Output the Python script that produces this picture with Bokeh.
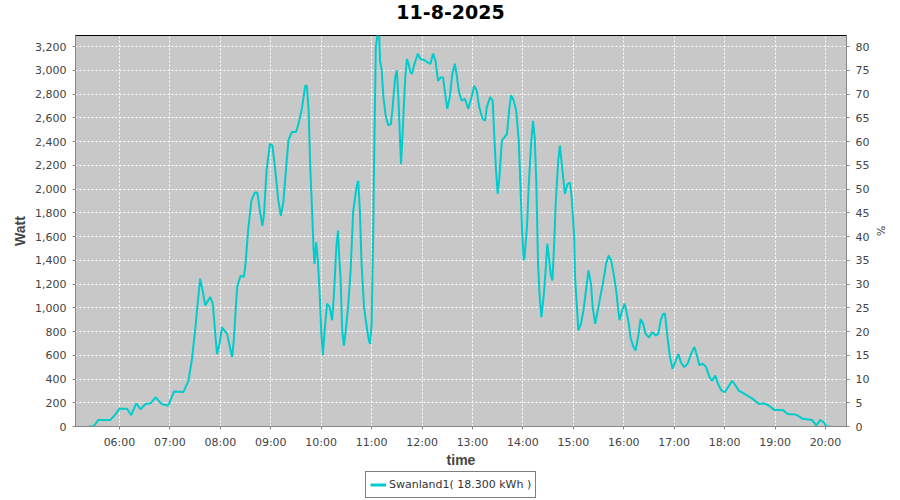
import pandas as pd
from bokeh.plotting import figure
from bokeh.layouts import column
from bokeh.models import (ColumnDataSource, Range1d, LinearAxis, FixedTicker,
                          NumeralTickFormatter, Legend, LegendItem, Label)
from bokeh.embed import file_html
from bokeh.resources import INLINE

DATE = "2025-08-11"
title_text = "11-8-2025"
legend_label = "Swanland1( 18.300 kWh )"
y_label = "Watt"
y2_label = "%"
x_label = "time"

times = [
    "05:23", "05:29", "05:35", "05:49", "05:55", "06:00", "06:09", "06:14", "06:20", "06:25",
    "06:31", "06:37", "06:43", "06:50", "06:58", "07:05", "07:16", "07:22", "07:26", "07:30",
    "07:33", "07:36", "07:39", "07:42", "07:48", "07:51", "07:53", "07:56", "07:59", "08:02",
    "08:08", "08:11", "08:14", "08:16", "08:20", "08:24", "08:28", "08:30", "08:33", "08:37",
    "08:41", "08:44", "08:47", "08:50", "08:52", "08:55", "08:59", "09:02", "09:05", "09:09",
    "09:12", "09:15", "09:18", "09:21", "09:25", "09:30", "09:33", "09:37", "09:41", "09:43",
    "09:45", "09:47", "09:49", "09:51", "09:52", "09:54", "09:56", "09:58", "10:00", "10:02",
    "10:04", "10:07", "10:10", "10:13", "10:15", "10:18", "10:20", "10:21", "10:23", "10:25",
    "10:27", "10:29", "10:32", "10:35", "10:38", "10:42", "10:44", "10:46", "10:48", "10:51",
    "10:53", "10:56", "10:58", "11:00", "11:02", "11:03", "11:05", "11:07", "11:09", "11:10",
    "11:12", "11:14", "11:17", "11:20", "11:23", "11:25", "11:28", "11:30", "11:32", "11:34",
    "11:35", "11:37", "11:40", "11:42", "11:44", "11:46", "11:48", "11:51", "11:55", "11:58",
    "12:03", "12:07", "12:10", "12:13", "12:16", "12:19", "12:22", "12:25", "12:28", "12:30",
    "12:33", "12:36", "12:39", "12:41", "12:44", "12:47", "12:51", "12:55", "12:59", "13:02",
    "13:05", "13:08", "13:12", "13:15", "13:17", "13:21", "13:24", "13:26", "13:28", "13:30",
    "13:32", "13:35", "13:38", "13:41", "13:44", "13:46", "13:49", "13:52", "13:55", "13:57",
    "13:59", "14:01", "14:02", "14:05", "14:07", "14:10", "14:12", "14:14", "14:16", "14:18",
    "14:20", "14:22", "14:25", "14:27", "14:29", "14:31", "14:33", "14:35", "14:37", "14:39",
    "14:42", "14:44", "14:47", "14:50", "14:53", "14:56", "14:58", "15:01", "15:02", "15:04",
    "15:06", "15:09", "15:12", "15:15", "15:18", "15:21", "15:23", "15:26", "15:29", "15:32",
    "15:35", "15:39", "15:42", "15:45", "15:48", "15:51", "15:53", "15:55", "15:58", "16:01",
    "16:03", "16:06", "16:08", "16:11", "16:14", "16:17", "16:20", "16:23", "16:26", "16:30",
    "16:34", "16:38", "16:41", "16:44", "16:47", "16:49", "16:52", "16:55", "16:58", "17:01",
    "17:05", "17:08", "17:12", "17:16", "17:20", "17:24", "17:27", "17:30", "17:34", "17:38",
    "17:42", "17:45", "17:49", "17:52", "17:56", "18:00", "18:04", "18:09", "18:13", "18:17",
    "18:20", "18:27", "18:33", "18:41", "18:47", "18:53", "18:59", "19:09", "19:15", "19:25",
    "19:33", "19:44", "19:49", "19:54", "19:58", "20:01", "20:06",
]
watts = [
    0, 0, 55, 55, 100, 150, 150, 95, 195, 145,
    190, 195, 245, 190, 175, 295, 290, 385, 555, 810,
    1035, 1245, 1145, 1020, 1090, 1035, 865, 610, 695, 835,
    780, 680, 585, 725, 1175, 1270, 1260, 1370, 1650, 1905,
    1970, 1970, 1820, 1690, 1790, 2155, 2380, 2365, 2180, 1905,
    1775, 1890, 2155, 2410, 2480, 2480, 2550, 2675, 2870, 2870,
    2670, 2180, 1845, 1480, 1370, 1550, 1400, 1145, 810, 600,
    800, 1035, 1005, 895, 1090, 1510, 1650, 1480, 1260, 810,
    680, 795, 1005, 1315, 1805, 2015, 2070, 1820, 1370, 1005,
    895, 750, 695, 865, 1680, 2270, 3195, 3300, 3300, 3080,
    3000, 2775, 2605, 2535, 2550, 2690, 2940, 3000, 2745, 2380,
    2210, 2495, 2940, 3095, 3055, 2985, 2970, 3055, 3140, 3095,
    3085, 3065, 3055, 3140, 3080, 2910, 2940, 2940, 2775, 2675,
    2775, 2970, 3055, 2970, 2815, 2745, 2760, 2675, 2775, 2870,
    2830, 2690, 2590, 2575, 2690, 2775, 2745, 2435, 2155, 1960,
    2100, 2410, 2435, 2465, 2690, 2790, 2745, 2660, 2410, 2045,
    1650, 1400, 1425, 1705, 2045, 2410, 2575, 2435, 2045, 1370,
    1090, 920, 1120, 1315, 1540, 1425, 1285, 1230, 1500, 1880,
    2240, 2365, 2155, 1960, 2040, 2055, 1930, 1595, 1260, 1035,
    810, 865, 975, 1145, 1315, 1200, 1005, 865, 975, 1090,
    1200, 1370, 1440, 1400, 1285, 1145, 1005, 895, 975, 1035,
    975, 865, 750, 680, 640, 750, 905, 865, 780, 750,
    795, 765, 780, 895, 950, 950, 750, 585, 485, 540,
    610, 540, 500, 530, 610, 670, 600, 515, 530, 500,
    415, 385, 430, 360, 305, 290, 330, 385, 345, 300,
    290, 260, 235, 190, 195, 175, 140, 140, 105, 100,
    65, 55, 10, 55, 35, 0, 0,
]

x_tick_labels = ["06:00", "07:00", "08:00", "09:00", "10:00", "11:00", "12:00", "13:00",
                 "14:00", "15:00", "16:00", "17:00", "18:00", "19:00", "20:00"]
watt_ticks = list(range(0, 3201, 200))
pct_ticks = list(range(0, 81, 5))

x_start = pd.Timestamp(f"{DATE} 05:07:40")
x_end = pd.Timestamp(f"{DATE} 20:25:00")
y_max = 3293
pct_per_watt = 80 / 3200


def to_ms(ts):
    return ts.value // 10**6


xs = pd.to_datetime([f"{DATE} {t}" for t in times])
src = ColumnDataSource(dict(x=xs, w=watts))

tick_ms = [to_ms(pd.Timestamp(f"{DATE} {t}")) for t in x_tick_labels]

FONT = "DejaVu Sans"
LABEL_FONT = "Liberation Sans"
LABEL_COLOR = "#444444"
AXIS_COLOR = "#888888"
LINE_COLOR = "#00CCCC"


def strip(height):
    f = figure(width=900, height=height, output_backend="svg", toolbar_location=None,
               x_range=Range1d(0, 1), y_range=Range1d(0, 1),
               x_axis_location=None, y_axis_location=None,
               min_border=0, outline_line_color=None,
               background_fill_color="white", border_fill_color="white")
    f.grid.visible = False
    return f


# title strip
ts_fig = strip(35)
ts_fig.add_layout(Label(x=375, y=23.5, x_units="screen", y_units="screen",
                        text=title_text, text_align="center", text_baseline="middle",
                        text_font="DejaVu Sans", text_font_size="19px",
                        text_font_style="bold", text_color="black"))

# main chart
p = figure(width=900, height=435, x_axis_type="datetime",
           x_range=Range1d(to_ms(x_start), to_ms(x_end)),
           y_range=Range1d(0, y_max),
           output_backend="svg", toolbar_location=None,
           min_border_left=75, min_border_right=54, min_border_top=0, min_border_bottom=44,
           background_fill_color="#C8C8C8", border_fill_color="white",
           outline_line_color="black", outline_line_width=1)

r = p.line("x", "w", source=src, line_color=LINE_COLOR, line_width=2)

xa = p.xaxis[0]
xa.ticker = FixedTicker(ticks=tick_ms)
xa.major_label_overrides = {t: lab for t, lab in zip(tick_ms, x_tick_labels)}
xa.axis_label = x_label

ya = p.yaxis[0]
ya.ticker = FixedTicker(ticks=watt_ticks)
ya.formatter = NumeralTickFormatter(format="0,0")
ya.axis_label = y_label

p.extra_y_ranges = {"pct": Range1d(0, y_max * pct_per_watt)}
ra = LinearAxis(y_range_name="pct", ticker=FixedTicker(ticks=pct_ticks), axis_label=y2_label)
p.add_layout(ra, "right")

for ax in (xa, ya, ra):
    ax.axis_line_color = AXIS_COLOR
    ax.major_tick_line_color = AXIS_COLOR
    ax.major_tick_out = 3
    ax.major_tick_in = 0
    ax.minor_tick_line_color = None
    ax.major_label_text_font = FONT
    ax.major_label_text_font_size = "11px"
    ax.major_label_text_color = LABEL_COLOR
    ax.axis_label_text_font = LABEL_FONT
    ax.axis_label_text_font_size = "14px"
    ax.axis_label_text_font_style = "bold"
    ax.axis_label_text_color = LABEL_COLOR
    ax.major_label_standoff = 6
xa.axis_label_standoff = 0
ya.axis_label_standoff = 4
ra.axis_label_standoff = 2
ra.axis_label_text_font = FONT
ra.axis_label_text_font_style = "normal"
ra.axis_label_text_font_size = "11px"

p.xgrid.ticker = FixedTicker(ticks=tick_ms)
p.ygrid.ticker = FixedTicker(ticks=watt_ticks)
for g in (p.xgrid[0], p.ygrid[0]):
    g.grid_line_color = "white"
    g.grid_line_dash = "2 2"
    g.grid_line_width = 1

# legend strip (its ranges hold no data, only the legend is shown)
lg = strip(30)
lr = lg.line("x", "w", source=src, line_color=LINE_COLOR, line_width=3)
legend = Legend(items=[LegendItem(label=legend_label, renderers=[lr])],
                location=(290, 2), orientation="horizontal",
                border_line_color="black", border_line_width=1,
                background_fill_color="white", background_fill_alpha=1,
                label_text_font=FONT, label_text_font_size="11px",
                label_text_color="#333333", glyph_width=16, glyph_height=17,
                label_standoff=3, padding=4, margin=0, spacing=0,
                label_height=17)
lg.add_layout(legend)

open("out.html", "w").write(file_html(column(ts_fig, p, lg, spacing=0), INLINE))
